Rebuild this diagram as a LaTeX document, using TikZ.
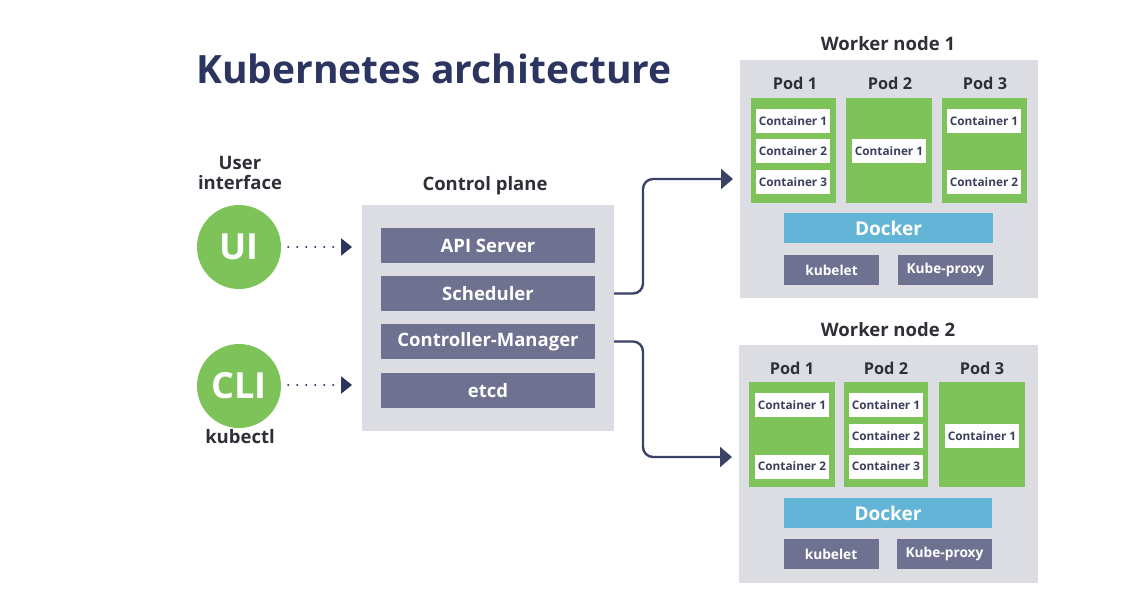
\documentclass[tikz,border=0pt]{standalone}
\usepackage{fontspec}
\setmainfont{Open Sans}
\usetikzlibrary{arrows.meta}
\definecolor{navy}{HTML}{2B3560}
\definecolor{linec}{HTML}{3A4266}
\definecolor{panel}{HTML}{DCDCE3}
\definecolor{barc}{HTML}{6E7190}
\definecolor{podg}{HTML}{7DC35A}
\definecolor{dock}{HTML}{62B5D6}
\definecolor{labc}{HTML}{2F2F38}
\definecolor{ctext}{HTML}{3B3F5C}
\tikzset{
  panelbox/.style={fill=panel, inner sep=0pt, outer sep=0pt},
  barbox/.style={fill=barc, text=white, inner sep=0pt, outer sep=0pt, minimum width=214pt, minimum height=35pt, font=\fontsize{18.5}{20}\selectfont\bfseries},
  podbox/.style={fill=podg, inner sep=0pt, outer sep=0pt, minimum height=105pt},
  ctbox/.style={fill=white, text=ctext, inner sep=0pt, outer sep=0pt, minimum width=74pt, minimum height=24pt, font=\fontsize{11.8}{13}\selectfont\bfseries},
  dockbox/.style={fill=dock, text=white, inner sep=0pt, outer sep=0pt, minimum height=30pt, font=\fontsize{19}{21}\selectfont\bfseries},
  agentbox/.style={fill=barc, text=white, inner sep=0pt, outer sep=0pt, minimum width=95pt, minimum height=30pt, font=\fontsize{13.7}{15}\selectfont\bfseries},
  lab/.style={text=labc, inner sep=0pt, font=\fontsize{18.5}{20}\selectfont\bfseries},
  podlab/.style={text=labc, inner sep=0pt, font=\fontsize{16.3}{18}\selectfont\bfseries},
  client/.style={circle, fill=podg, text=white, inner sep=0pt, minimum size=84pt, font=\fontsize{36}{38}\selectfont\bfseries},
  dots/.style={draw=navy, line width=2.2pt, line cap=round, dash pattern=on 0pt off 9pt, -{Triangle[length=11pt,width=17pt]}},
  conn/.style={draw=linec, line width=2.4pt, rounded corners=10pt, -{Triangle[length=12pt,width=20pt]}},
}
\begin{document}
\begin{tikzpicture}[x=1pt,y=-1pt]
\useasboundingbox[fill=white] (0,0) rectangle (1143,608);

% title
\node[anchor=base west, inner sep=0pt, text=navy, font=\fontsize{39}{44}\selectfont\bfseries] (title) at (196,83) {Kubernetes architecture};

% clients
\node[lab, align=center] (uilab) at (240,173) {User\\interface};
\node[client] (ui) at (239,247) {UI};
\node[client] (cli) at (239,386) {CLI};
\node[lab] (kubectl) at (240,437) {kubectl};

% control plane
\node[lab] (cplab) at (485,186) {Control plane};
\node[panelbox, minimum width=252pt, minimum height=226pt] (cp) at (488,318) {};
\node[barbox] (api) at (488,245.5) {API Server};
\node[barbox] (sched) at (488,293.5) {Scheduler};
\node[barbox] (cm) at (488,341.5) {Controller-Manager};
\node[barbox] (etcd) at (488,390.5) {etcd};

\draw[dots, shorten <=7pt, shorten >=10pt] (ui.east) -- (ui.east -| cp.west);
\draw[dots, shorten <=7pt, shorten >=10pt] ([yshift=1pt]cli.east) -- ([yshift=1pt]cli.east -| cp.west);

% worker node 1
\node[lab] (w1lab) at (888,44) {Worker node 1};
\node[panelbox, minimum width=298pt, minimum height=238pt] (w1) at (889,179) {};
\node[podlab] (w1p1lab) at (795,83) {Pod 1};
\node[podlab] (w1p2lab) at (890,83) {Pod 2};
\node[podlab] (w1p3lab) at (985,83) {Pod 3};
\node[podbox, minimum width=85pt] (w1p1) at (793.5,150.5) {};
\node[podbox, minimum width=86pt] (w1p2) at (889,150.5) {};
\node[podbox, minimum width=85pt] (w1p3) at (984.5,150.5) {};
\node[ctbox] (w1p1c1) at (793,121) {Container 1};
\node[ctbox] (w1p1c2) at (793,151) {Container 2};
\node[ctbox] (w1p1c3) at (793,182) {Container 3};
\node[ctbox] (w1p2c1) at (889,151) {Container 1};
\node[ctbox] (w1p3c1) at (984,121) {Container 1};
\node[ctbox] (w1p3c2) at (984,182) {Container 2};
\node[dockbox, minimum width=209pt] (w1dock) at (888.5,228) {Docker};
\node[agentbox] (w1kubelet) at (831.5,270) {kubelet};
\node[agentbox] (w1proxy) at (945.5,270) {Kube-proxy};

% worker node 2
\node[lab] (w2lab) at (888,330) {Worker node 2};
\node[panelbox, minimum width=299pt, minimum height=238pt] (w2) at (888.5,464) {};
\node[podlab] (w2p1lab) at (792,368) {Pod 1};
\node[podlab] (w2p2lab) at (886,368) {Pod 2};
\node[podlab] (w2p3lab) at (982,368) {Pod 3};
\node[podbox, minimum width=86pt] (w2p1) at (792,434.5) {};
\node[podbox, minimum width=84pt] (w2p2) at (886,434.5) {};
\node[podbox, minimum width=86pt] (w2p3) at (982,434.5) {};
\node[ctbox] (w2p1c1) at (792,405) {Container 1};
\node[ctbox] (w2p1c2) at (792,466.5) {Container 2};
\node[ctbox] (w2p2c1) at (886,405) {Container 1};
\node[ctbox] (w2p2c2) at (886,436) {Container 2};
\node[ctbox] (w2p2c3) at (886,466.5) {Container 3};
\node[ctbox] (w2p3c1) at (982,436) {Container 1};
\node[dockbox, minimum width=208pt] (w2dock) at (888,513) {Docker};
\node[agentbox] (w2kubelet) at (831,554) {kubelet};
\node[agentbox] (w2proxy) at (944.5,554) {Kube-proxy};

% connectors
\draw[conn, shorten >=7pt] (sched.east -| cp.east) -- ++(29,0) |- (w1.west);
\draw[conn, shorten >=7pt] (cm.east -| cp.east) -- ++(29,0) |- ([yshift=7pt]w2.west);
\end{tikzpicture}
\end{document}
